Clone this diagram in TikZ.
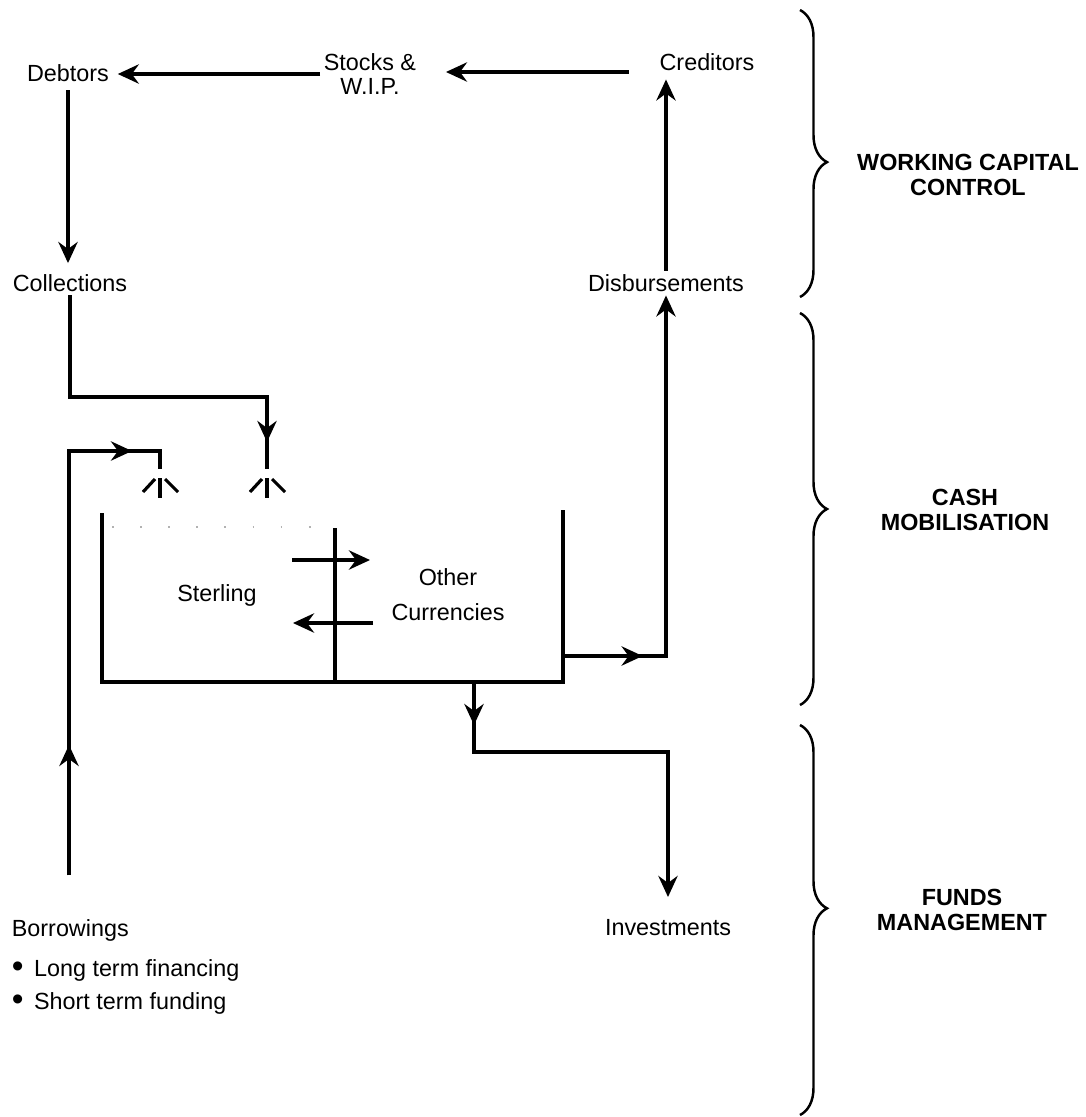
\documentclass[tikz,border=0pt]{standalone}
\usepackage{fontspec}
\setmainfont{Liberation Sans}
\usetikzlibrary{arrows.meta, positioning, decorations.pathreplacing, decorations.markings}

% spray head below a feed pipe
\newcommand{\sprinkler}[1]{%
    \draw[pipe] (#1) ++(0,9) -- ++(0,20);
    \draw[pipe] (#1) ++(-17,23) -- ++(12,-13);
    \draw[pipe] (#1) ++(5,10) -- ++(13,13);
}
\newcommand{\bigbullet}{\raisebox{-0.12ex}{\fontsize{19}{19}\selectfont\textbullet}}

\begin{document}
\begin{tikzpicture}[
    x=0.02cm, y=-0.02cm,
    txt/.style={font=\fontsize{13.3}{13.8}\selectfont, align=center, inner sep=2pt},
    head/.style={font=\fontsize{13.3}{14.2}\selectfont\bfseries, align=center},
    pipe/.style={line width=1.8pt},
    flow/.style={pipe, -{Stealth[length=12pt, width=11pt, inset=4pt]}},
    midarrow/.style={postaction={decorate, decoration={markings,
        mark=at position #1 with {\arrow{Stealth[length=12pt, width=11pt, inset=4pt]}}}}},
    wall/.style={line width=2.4pt},
    bracket/.style={line width=1.4pt, decorate,
        decoration={brace, amplitude=0.54cm, aspect=#1}},
]
\useasboundingbox (0,0) rectangle (1086,1117);

% Working capital cycle
\node[txt] (debtors)       at (68,73)   {Debtors};
\node[txt] (stocks)        at (370,74)  {Stocks \&\\W.I.P.};
\node[txt] (creditors)     at (707,62)  {Creditors};
\node[txt] (collections)   at (70,283)  {Collections};
\node[txt] (disbursements) at (666,283) {Disbursements};

\draw[flow, shorten >=0.1cm] (stocks.west) -- (stocks.west -| debtors.east);
\draw[flow, shorten <=0.54cm, shorten >=0.52cm]
    ([yshift=-0.2cm]creditors.west) -- ([yshift=-0.2cm]creditors.west -| stocks.east);
\draw[flow, shorten <=0.1cm, shorten >=0.15cm]
    (debtors.south) -- (debtors.south |- collections.north);
\draw[flow, shorten >=0.1cm]
    (disbursements.north) -- (disbursements.north |- creditors.south);

% Pool
\coordinate (tankTL) at (102,513);
\coordinate (tankBL) at (102,682);
\coordinate (tankBR) at (563,682);
\coordinate (tankTR) at (563,510);
\coordinate (divTop) at (335,528);
\draw[wall] (tankTL) -- (tankBL) -- (tankBR) -- (tankTR);
\draw[wall] (divTop) -- (divTop |- tankBL);
\draw[gray!60, line width=0.7pt, dash pattern=on 1pt off 15pt] (112,527) -- (322,527);

\node[txt] (sterling) at (217,595) {Sterling};
\node[txt] (othercur) at (448,595) {Other\\[6pt]Currencies};

\coordinate (swapA) at (292,560);
\coordinate (swapB) at (370,560);
\coordinate (swapC) at (373,623);
\coordinate (swapD) at (293,623);
\draw[flow] (swapA) -- (swapB);
\draw[flow] (swapC) -- (swapD);

% Inflows
\coordinate (tapA)  at (160,469);
\coordinate (bendA) at (69,451);
\coordinate (tapB)  at (267,469);
\coordinate (bendB) at (267,397);

\node[txt, anchor=west] (borrowings) at (8,930)  {Borrowings};
\node[txt, anchor=west] (longterm)   at (8,970)  {\bigbullet\hspace{0.45em}Long term financing};
\node[txt, anchor=west] (shortterm)  at (8,1003) {\bigbullet\hspace{0.45em}Short term funding};

\draw[pipe, shorten <=0.8cm, midarrow=-8.06cm, midarrow=-0.92cm]
    (borrowings.north -| bendA) -- (bendA) -| (tapA);
\draw[pipe, midarrow=-0.54cm] (collections.south) |- (bendB) -- (tapB);
\sprinkler{tapA}
\sprinkler{tapB}

% Outflows
\node[txt] (investments) at (668,928) {Investments};
\coordinate (outR)   at (563,656);
\coordinate (outB)   at (474,682);
\coordinate (splitB) at (474,752);
\draw[flow, midarrow=-7.68cm] (outR) -| (disbursements.south);
\draw[flow, shorten >=0.38cm, midarrow=-7.7cm] (outB) -- (splitB) -| (investments.north);

% Braces
\draw[bracket=0.53] (800,10)  -- (800,297);
\draw[bracket=0.5]  (800,313) -- (800,705);
\draw[bracket=0.47] (800,725) -- (800,1115);

\node[head] (wcc)      at (968,175) {WORKING CAPITAL\\CONTROL};
\node[head] (cashmob)  at (965,510) {CASH\\MOBILISATION};
\node[head] (fundsman) at (962,910) {FUNDS\\MANAGEMENT};
\end{tikzpicture}
\end{document}
